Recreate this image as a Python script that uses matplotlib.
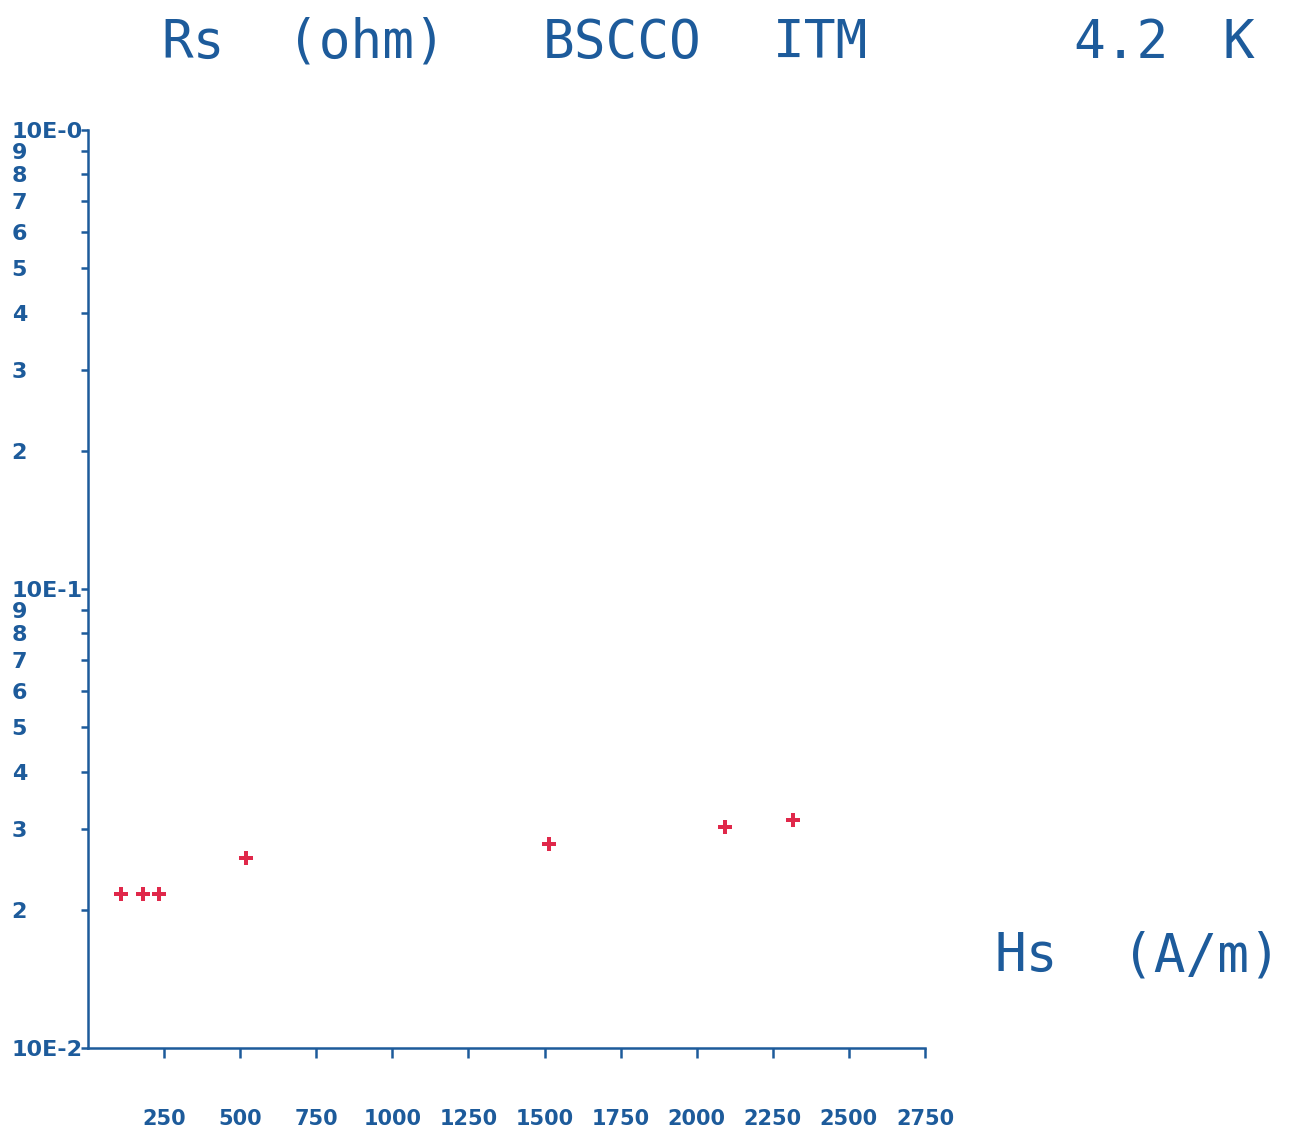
import numpy as np
from matplotlib import pyplot as plt
from matplotlib.ticker import NullLocator

# data
hs = [108, 180, 233, 519, 1516, 2094, 2317]          # A/m
rs = [0.0217, 0.0217, 0.0217, 0.0259, 0.0278, 0.0303, 0.0314]  # ohm

xticks = [250, 500, 750, 1000, 1250, 1500, 1750, 2000, 2250, 2500, 2750]
decades = [0.01, 0.1]
mantissas = [1, 2, 3, 4, 5, 6, 7, 8, 9]

blue = '#1d5b9b'
red = '#e0284a'

fig = plt.figure(figsize=(12.92, 11.35), dpi=100)
ax = fig.add_axes([88 / 1292, 87 / 1135, 837 / 1292, 918 / 1135])

ax.plot(hs, rs, linestyle='none', marker='P', markersize=10.5,
        color=red, markeredgewidth=0)

ax.set_yscale('log')
ax.set_xlim(0, 2750)
ax.set_ylim(0.01, 1.0)

for side in ['top', 'right']:
    ax.spines[side].set_visible(False)
for side in ['left', 'bottom']:
    ax.spines[side].set_color(blue)
    ax.spines[side].set_linewidth(1.8)

# y ticks: every mantissa of each decade, labelled like the plotter did
yt, yl = [], []
for i, d in enumerate(decades):
    for m in mantissas:
        yt.append(d * m)
        yl.append('10E-%d' % (2 - i) if m == 1 else str(m))
yt.append(1.0)
yl.append('10E-0')
ax.yaxis.set_minor_locator(NullLocator())
ax.set_yticks(yt)
ax.set_yticklabels(yl, fontsize=16, fontweight='bold', color=blue, ha='left')
ax.tick_params(axis='y', direction='out', length=5, width=1.8, color=blue, pad=50)

ax.xaxis.set_minor_locator(NullLocator())
ax.set_xticks(xticks)
ax.set_xticklabels([str(v) for v in xticks], fontsize=15, fontweight='bold', color=blue)
ax.tick_params(axis='x', direction='out', length=7, width=1.8, color=blue, pad=37)

# title pieces, plotter style monospace
tfont = dict(family='DejaVu Sans Mono', fontsize=38, color=blue, va='center', ha='left')
for txt, px in [('Rs', 161), ('(ohm)', 287), ('BSCCO', 543), ('ITM', 773), ('4.2', 1073), ('K', 1222)]:
    fig.text(px / 1292, 1 - 43 / 1135, txt, **tfont)
for txt, px in [('Hs', 995), ('(A/m)', 1122)]:
    fig.text(px / 1292, 1 - 956 / 1135, txt, **tfont)

fig.savefig('out.png', dpi=100)
